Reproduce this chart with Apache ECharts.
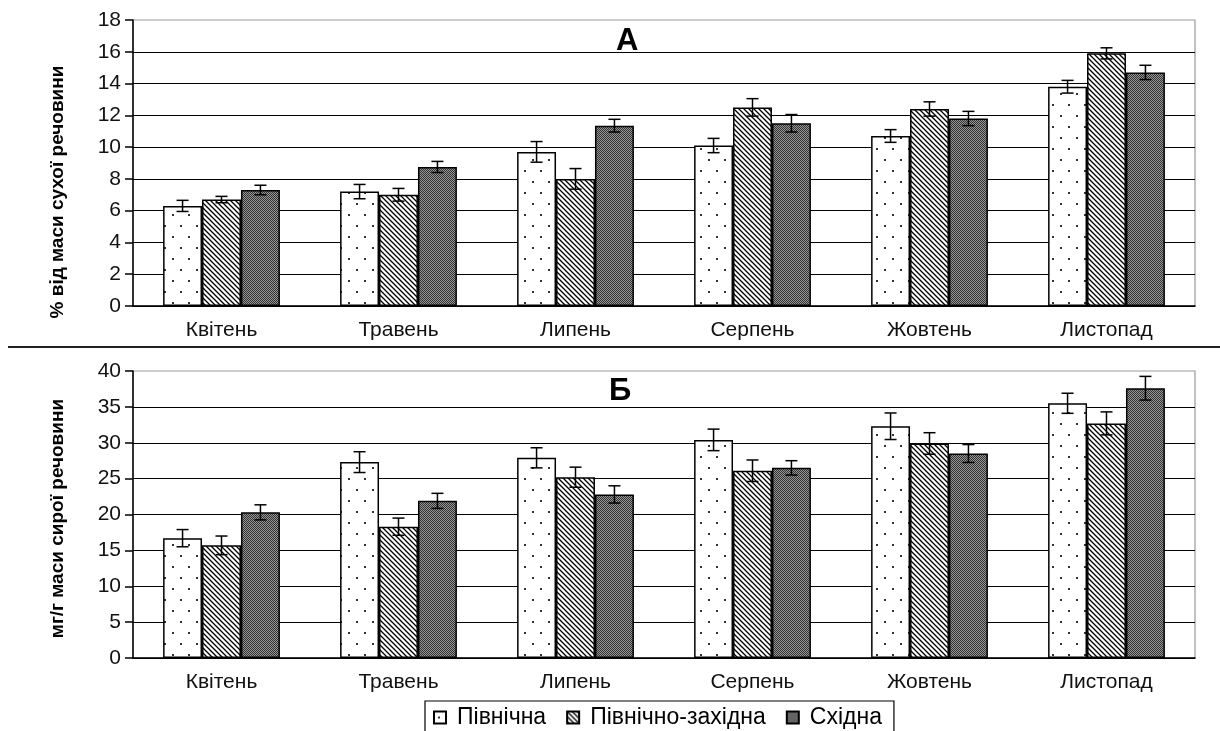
<!DOCTYPE html>
<html>
<head>
<meta charset="utf-8">
<title>Пігменти</title>
<script src="https://cdn.jsdelivr.net/npm/echarts@6/dist/echarts.min.js"></script>
<style>
html, body { margin: 0; padding: 0; background: #fff; }
#main { width: 1220px; height: 731px; }
</style>
</head>
<body>
<div id="main"></div>
<script>
// місяці та назви рядів
var months = ['Квітень', 'Травень', 'Липень', 'Серпень', 'Жовтень', 'Листопад'];
var names = ['Північна', 'Північно-західна', 'Східна'];

// А: % від маси сухої речовини
var northA = [6.3, 7.2, 9.7, 10.1, 10.7, 13.8];
var nwA    = [6.7, 7.0, 8.0, 12.5, 12.4, 15.9];
var eastA  = [7.3, 8.75, 11.35, 11.5, 11.8, 14.7];
var northAErr = [0.35, 0.45, 0.65, 0.45, 0.4, 0.4];
var nwAErr    = [0.2, 0.4, 0.65, 0.55, 0.45, 0.35];
var eastAErr  = [0.3, 0.35, 0.4, 0.55, 0.45, 0.45];

// Б: мг/г маси сирої речовини
var northB = [16.7, 27.3, 27.9, 30.4, 32.3, 35.5];
var nwB    = [15.7, 18.3, 25.2, 26.1, 29.9, 32.7];
var eastB  = [20.3, 21.9, 22.8, 26.5, 28.5, 37.6];
var northBErr = [1.2, 1.45, 1.4, 1.5, 1.85, 1.4];
var nwBErr    = [1.3, 1.2, 1.4, 1.5, 1.5, 1.6];
var eastBErr  = [1.05, 1.05, 1.2, 1.0, 1.25, 1.65];

var FONT = 'Liberation Sans, Arial, sans-serif';
var gapPct = 0.34;

function tile(w, h, draw) {
	var c = document.createElement('canvas');
	c.width = w; c.height = h;
	draw(c.getContext('2d'));
	return { image: c, repeat: 'repeat' };
}
var dots = tile(16, 22, function (g) {
	g.fillStyle = '#fff'; g.fillRect(0, 0, 16, 22);
	g.fillStyle = '#333';
	g.fillRect(4, 5, 2, 2);
	g.fillRect(12, 16, 2, 2);
});
var hatch = tile(5, 5, function (g) {
	g.fillStyle = '#fff'; g.fillRect(0, 0, 5, 5);
	g.strokeStyle = '#000'; g.lineWidth = 1.3;
	g.beginPath();
	g.moveTo(-1, -1); g.lineTo(6, 6);
	g.moveTo(-1, 4); g.lineTo(1, 6);
	g.moveTo(4, -1); g.lineTo(6, 1);
	g.stroke();
});
var dense = tile(2, 2, function (g) {
	g.fillStyle = '#959595'; g.fillRect(0, 0, 2, 2);
	g.fillStyle = '#333';
	g.fillRect(0, 0, 1, 1); g.fillRect(1, 1, 1, 1);
});
var fills = [dots, hatch, dense];

function bars(vals, k, ax) {
	return {
		name: names[k], type: 'bar', xAxisIndex: ax, yAxisIndex: ax,
		barGap: 0, barCategoryGap: (gapPct * 100) + '%',
		itemStyle: { color: fills[k], borderColor: '#000', borderWidth: 1.5 },
		emphasis: { disabled: true },
		data: vals
	};
}

function errs(vals, e, k, ax) {
	return {
		type: 'custom', xAxisIndex: ax, yAxisIndex: ax, z: 10, silent: true,
		data: vals.map(function (v, i) { return [i, v - e[i], v + e[i]]; }),
		encode: { x: 0, y: [1, 2] },
		renderItem: function (params, api) {
			var lo = api.coord([api.value(0), api.value(1)]);
			var hi = api.coord([api.value(0), api.value(2)]);
			var bw = api.size([1, 0])[0] * (1 - gapPct) / 3;
			var x = lo[0] + (k - 1) * bw;
			var c = 6;
			var st = { stroke: '#000', lineWidth: 1.5 };
			return { type: 'group', children: [
				{ type: 'line', shape: { x1: x, y1: lo[1], x2: x, y2: hi[1] }, style: st },
				{ type: 'line', shape: { x1: x - c, y1: lo[1], x2: x + c, y2: lo[1] }, style: st },
				{ type: 'line', shape: { x1: x - c, y1: hi[1], x2: x + c, y2: hi[1] }, style: st }
			] };
		}
	};
}

function xAx(i) {
	return {
		type: 'category', gridIndex: i, data: months,
		axisLine: { lineStyle: { color: '#000', width: 1.5 } },
		axisTick: { length: 6, lineStyle: { color: '#000', width: 1.5 } },
		axisLabel: { color: '#111', fontFamily: FONT, fontSize: 21, margin: 14 }
	};
}
function yAx(i, max, step, name, pad) {
	return {
		type: 'value', gridIndex: i, min: 0, max: max, interval: step,
		name: name, nameLocation: 'middle', nameGap: 66,
		nameTextStyle: { color: '#000', fontFamily: 'Liberation Sans Narrow, ' + FONT, fontWeight: 'bold', fontSize: 19, padding: pad },
		axisLine: { show: true, lineStyle: { color: '#000', width: 1.5 } },
		axisTick: { show: true, length: 8, lineStyle: { color: '#000', width: 1.5 } },
		axisLabel: { color: '#111', fontFamily: FONT, fontSize: 21, margin: 12 },
		splitLine: { show: true, showMaxLine: false, lineStyle: { color: '#000', width: 1.2 } }
	};
}

var chart = echarts.init(document.getElementById('main'));
chart.setOption({
	animation: false,
	backgroundColor: '#fff',
	title: [
		{ text: 'А', left: 611, top: 21, textStyle: { fontFamily: FONT, fontSize: 31, fontWeight: 'bold', color: '#000' } },
		{ text: 'Б', left: 604, top: 371, textStyle: { fontFamily: FONT, fontSize: 31, fontWeight: 'bold', color: '#000' } }
	],
	grid: [
		{ left: 133, right: 25, top: 20, height: 286, show: true, borderColor: '#999', borderWidth: 1.2 },
		{ left: 133, right: 25, top: 371, height: 287, show: true, borderColor: '#999', borderWidth: 1.2 }
	],
	legend: {
		data: names, left: 425, top: 701, icon: 'rect',
		padding: [5, 12, 12, 8], itemGap: 20,
		itemWidth: 12, itemHeight: 12,
		borderColor: '#000', borderWidth: 1.2,
		textStyle: { fontFamily: FONT, fontSize: 23, color: '#000', padding: [0, 0, 0, 6] }
	},
	graphic: [
		{ type: 'line', shape: { x1: 8, y1: 347, x2: 1220, y2: 347 }, style: { stroke: '#222', lineWidth: 2 } }
	],
	xAxis: [xAx(0), xAx(1)],
	yAxis: [
		yAx(0, 18, 2, '% від маси сухої речовини', [0, 58, 0, 0]),
		yAx(1, 40, 5, 'мг/г маси сирої речовини', [0, 8, 0, 0])
	],
	series: [
		bars(northA, 0, 0), bars(nwA, 1, 0), bars(eastA, 2, 0),
		bars(northB, 0, 1), bars(nwB, 1, 1), bars(eastB, 2, 1),
		errs(northA, northAErr, 0, 0), errs(nwA, nwAErr, 1, 0), errs(eastA, eastAErr, 2, 0),
		errs(northB, northBErr, 0, 1), errs(nwB, nwBErr, 1, 1), errs(eastB, eastBErr, 2, 1)
	]
});
</script>
</body>
</html>
